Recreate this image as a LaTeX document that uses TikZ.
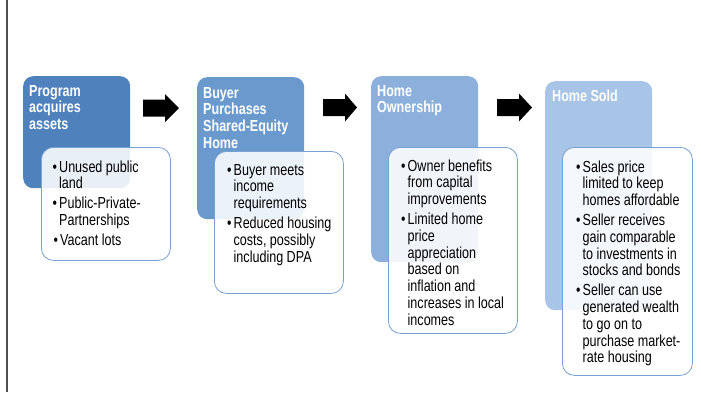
\documentclass[tikz,border=0pt]{standalone}
\usepackage{fontspec}
\setmainfont{Liberation Sans}[FakeStretch=0.785]
\definecolor{cA}{RGB}{79,129,189}
\definecolor{cB}{RGB}{106,153,206}
\definecolor{cC}{RGB}{140,176,219}
\definecolor{cD}{RGB}{168,196,230}
\definecolor{wline}{RGB}{120,160,210}
\definecolor{frame}{RGB}{80,80,80}
\newcommand{\bu}{\makebox[6.5pt][l]{•}}
\newcommand{\ind}{\hspace*{6.5pt}}
\newcommand{\bodytext}[1]{\parbox[t]{150pt}{\raggedright\fontsize{16}{16.8}\selectfont #1}}
\newcommand{\ttltext}[1]{\parbox[t]{120pt}{\raggedright\bfseries\fontsize{16}{16.7}\selectfont #1}}
\newcommand{\blockarrow}[3]{\fill[black] (#1,{#3-8.5}) -- ({#1+22},{#3-8.5}) -- ({#1+22},{#3-14}) -- (#2,#3) -- ({#1+22},{#3+14}) -- ({#1+22},{#3+8.5}) -- (#1,{#3+8.5}) -- cycle;}
\begin{document}
\begin{tikzpicture}[x=1pt,y=-1pt,
  phase/.style={rounded corners=10pt, inner sep=0pt, anchor=north west},
  detail/.style={draw=wline, line width=0.8pt, fill=white, fill opacity=0.88, rounded corners=12pt, inner sep=0pt, anchor=north west},
  ttl/.style={text=white, inner sep=0pt, anchor=base west},
  body/.style={text=black, inner sep=0pt, anchor=base west}]
\useasboundingbox (0,0) rectangle (701,392);
\fill[white] (0,0) rectangle (701,392);
\draw[frame, line width=1.3pt] (7,0) -- (7,392);

% phase boxes
\node[phase, fill=cA, minimum width=107pt, minimum height=112pt] (p1) at (23,76) {};
\node[phase, fill=cB, minimum width=107pt, minimum height=142pt] (p2) at (197,77) {};
\node[phase, fill=cC, minimum width=107pt, minimum height=186pt] (p3) at (371,76) {};
\node[phase, fill=cD, minimum width=107pt, minimum height=229pt] (p4) at (545,81) {};

\node[ttl] (t1) at (29,96) {\ttltext{Program\\acquires\\assets}};
\node[ttl] (t2) at (203,98) {\ttltext{Buyer\\Purchases\\Shared-Equity\\Home}};
\node[ttl] (t3) at (377,96) {\ttltext{Home\\Ownership}};
\node[ttl] (t4) at (552,101) {\ttltext{Home Sold}};

% detail boxes
\node[detail, minimum width=129pt, minimum height=113pt] (d1) at (41,147) {};
\node[detail, minimum width=129pt, minimum height=142pt] (d2) at (214,151) {};
\node[detail, minimum width=129pt, minimum height=186pt] (d3) at (388,147) {};
\node[detail, minimum width=130pt, minimum height=228pt] (d4) at (562,147) {};

\node[body] (b1) at (52.5,172) {\bodytext{\bu Unused public\\\ind land\\[3pt]\bu Public-Private-\\\ind Partnerships\\[3pt]\hspace*{1pt}\bu Vacant lots}};
\node[body] (b2) at (227,175) {\bodytext{\bu Buyer meets\\\ind income\\\ind requirements\\[3pt]\bu Reduced housing\\\ind costs, possibly\\\ind including DPA}};
\node[body] (b3) at (401,171) {\bodytext{\bu Owner benefits\\\ind from capital\\\ind improvements\\[3pt]\bu Limited home\\\ind price\\\ind appreciation\\\ind based on\\\ind inflation and\\\ind increases in local\\\ind incomes}};
\node[body] (b4) at (576,172) {\bodytext{\bu Sales price\\\ind limited to keep\\\ind homes affordable\\[3pt]\bu Seller receives\\\ind gain comparable\\\ind to investments in\\\ind stocks and bonds\\[3pt]\bu Seller can use\\\ind generated wealth\\\ind to go on to\\\ind purchase market-\\\ind rate housing}};

% block arrows
\blockarrow{143}{179}{108}
\blockarrow{323}{357}{107.5}
\blockarrow{497}{532}{107.5}
\end{tikzpicture}
\end{document}
